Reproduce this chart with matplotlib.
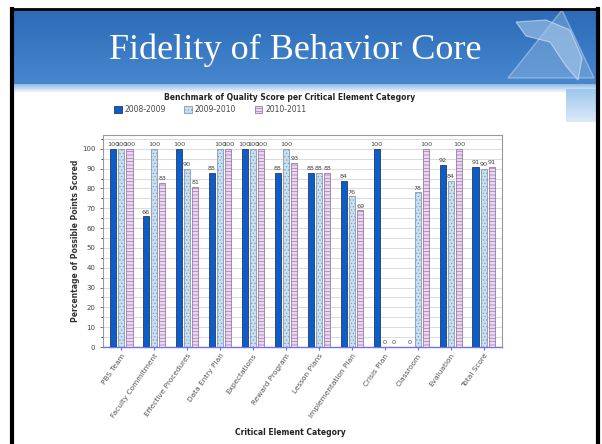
import numpy as np
import matplotlib.pyplot as plt
from matplotlib.patches import Polygon
from matplotlib.ticker import MultipleLocator

# data
categories = ['PBS Team', 'Faculty Commitment', 'Effective Procedures', 'Data Entry Plan',
              'Expectations', 'Reward Program', 'Lesson Plans', 'Implementation Plan',
              'Crisis Plan', 'Classroom', 'Evaluation', 'Total Score']
years = ['2008-2009', '2009-2010', '2010-2011']
s2008 = [100, 66, 100, 88, 100, 88, 88, 84, 100, 0, 92, 91]
s2009 = [100, 100, 90, 100, 100, 100, 88, 76, 0, 78, 84, 90]
s2010 = [100, 83, 81, 100, 100, 93, 88, 69, 0, 100, 100, 91]

plt.rcParams['hatch.linewidth'] = 0.5

W, H = 602, 444
fig = plt.figure(figsize=(W / 100, H / 100), dpi=100)

# slide background, in pixel coords
bg = fig.add_axes([0, 0, 1, 1])
bg.set_xlim(0, W)
bg.set_ylim(H, 0)
bg.axis('off')


def vgrad(c_top, c_bot, n=60):
    t = np.linspace(0, 1, n).reshape(-1, 1, 1)
    g = np.array(c_top) + (np.array(c_bot) - np.array(c_top)) * t
    return np.repeat(g, 2, axis=1)


# banner
bg.imshow(vgrad([0.17, 0.42, 0.72], [0.28, 0.53, 0.81]), extent=[12, 598, 84, 10], aspect='auto', zorder=1)
bg.imshow(vgrad([0.55, 0.72, 0.90], [1.0, 1.0, 1.0]), extent=[12, 598, 93, 84], aspect='auto', zorder=1)
bg.imshow(vgrad([0.62, 0.78, 0.93], [0.86, 0.92, 0.98]), extent=[566, 598, 122, 90], aspect='auto', zorder=1)

# logo (rough triangle + state shape)
bg.add_patch(Polygon([[508, 78], [562, 10], [594, 78]], closed=True, fc='#8fb6e2', ec='#cfe0f3',
                     lw=1.0, alpha=0.45, zorder=2))
bg.add_patch(Polygon([[516, 22], [546, 20], [570, 30], [582, 58], [578, 80], [566, 66], [550, 42], [526, 36]],
                     closed=True, fc='#a8c8ea', ec='#e0ecf8', lw=0.8, alpha=0.6, zorder=3))

# black frame
bg.plot([12, 598], [9, 9], color='black', lw=2, zorder=5)
bg.plot([12, 12], [9, H], color='black', lw=3, zorder=5)
bg.plot([598, 598], [9, H], color='black', lw=3, zorder=5)

bg.text(295, 50, 'Fidelity of Behavior Core', color='white', fontsize=26,
        family='Liberation Serif', ha='center', va='center', zorder=6)

# chart
ax = fig.add_axes([103 / W, 1 - 347 / H, 399 / W, (347 - 135) / H])
x = np.arange(len(categories))
bw = 0.19
off = 0.25
b1 = ax.bar(x - off, s2008, bw, color='#0b5dc9', edgecolor='#2a3a60', lw=0.6, zorder=3, label=years[0])
b2 = ax.bar(x, s2009, bw, color='#c6e1f6', edgecolor='#8a9aaa', lw=0.6, hatch='.....', zorder=3, label=years[1])
b3 = ax.bar(x + off, s2010, bw, color='#ead8f0', edgecolor='#9c78ac', lw=0.6, hatch='-----', zorder=3, label=years[2])
for bars in (b1, b2, b3):
    for r in bars:
        h = r.get_height()
        ax.text(r.get_x() + r.get_width() / 2, h + 0.8, '%d' % h, ha='center', va='bottom',
                fontsize=4.6, color='#444444', zorder=4)

ax.set_xlim(-0.55, 11.55)
ax.set_ylim(0, 107)
ax.yaxis.set_major_locator(MultipleLocator(10))
ax.yaxis.set_minor_locator(MultipleLocator(5))
ax.grid(axis='y', which='both', color='#dcdcdc', lw=0.8, zorder=0)
ax.set_xticks(x)
ax.set_xticklabels(categories, rotation=55, ha='right', rotation_mode='anchor', fontsize=5.3, color='#555555')
ax.tick_params(axis='y', labelsize=5, colors='#444444', length=2, width=0.5)
ax.tick_params(axis='y', which='minor', length=1.5, width=0.5)
ax.tick_params(axis='x', length=2, color='#6a6af0', pad=2)
for s in ['top', 'right', 'left']:
    ax.spines[s].set_color('#999999')
    ax.spines[s].set_linewidth(0.8)
ax.spines['bottom'].set_color('#7070f0')
ax.spines['bottom'].set_linewidth(1.0)
ax.set_ylabel('Percentage of Possible Points Scored', fontsize=5.5, fontweight='bold', color='#333333', labelpad=1)

fig.text(290 / W, 1 - 97 / H, 'Benchmark of Quality Score per Critical Element Category',
         fontsize=5.5, fontweight='bold', ha='center', va='center', color='#222222')
fig.text(290 / W, 1 - 432 / H, 'Critical Element Category',
         fontsize=5.5, fontweight='bold', ha='center', va='center', color='#222222')
fig.legend(handles=[b1, b2, b3], loc='center left', bbox_to_anchor=(107 / W, 1 - 110 / H),
           ncol=3, frameon=False, fontsize=5.5, handlelength=1.0, handleheight=1.0,
           columnspacing=2.4, handletextpad=0.4, labelcolor='#444444')

fig.savefig('out.png', dpi=100)
